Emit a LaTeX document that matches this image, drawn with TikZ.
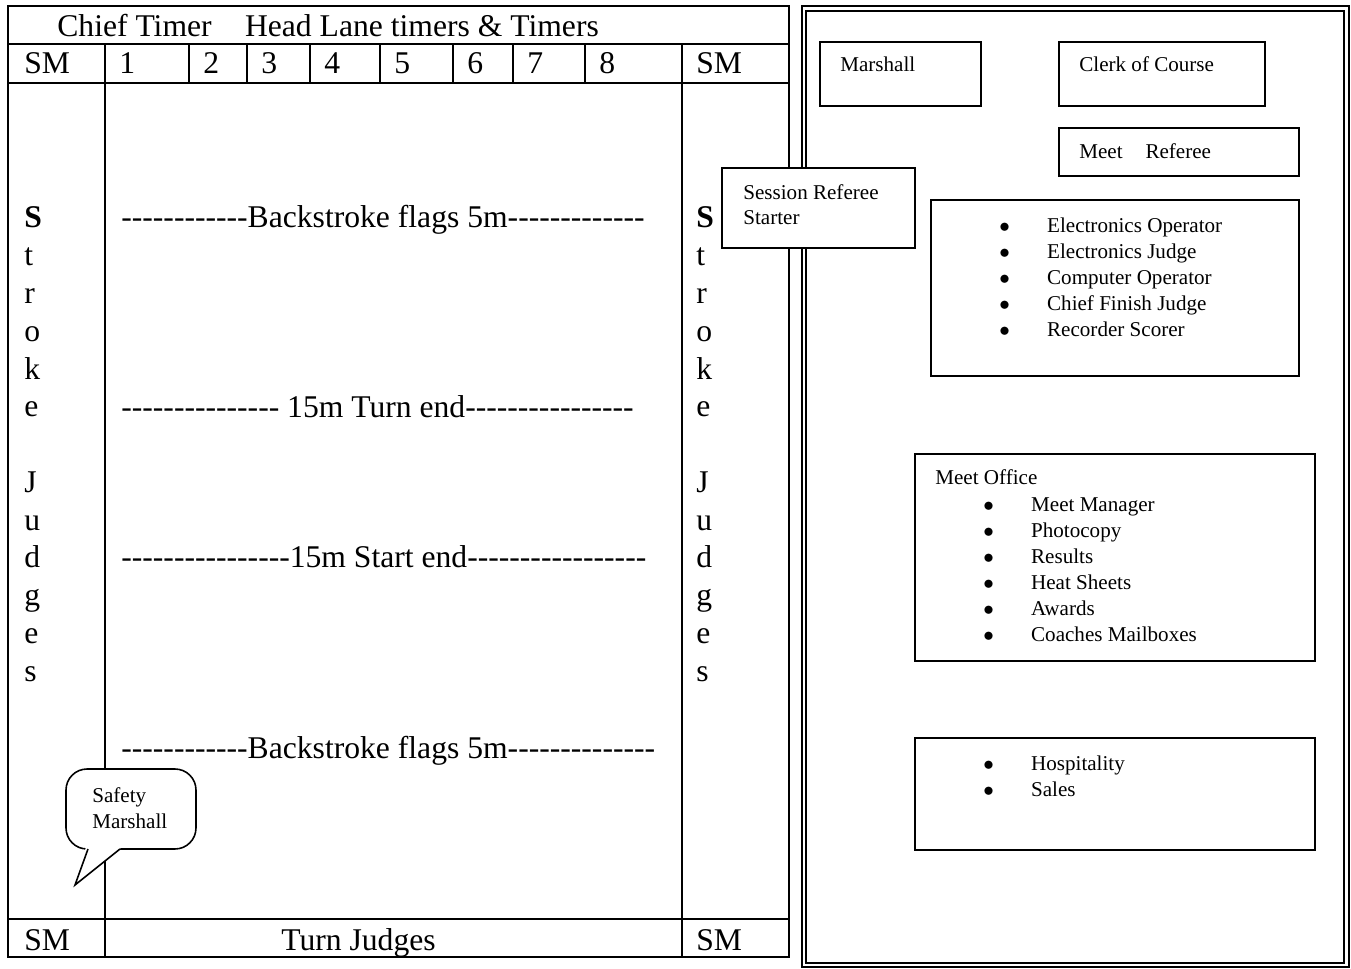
\documentclass[tikz,border=0pt]{standalone}
\usepackage{fontspec}
\setmainfont{Liberation Serif}[Ligatures=TeXOff]
\newcommand{\bigfont}{\fontsize{18}{21.6}\selectfont}
\newcommand{\smallfont}{\fontsize{12}{14.4}\selectfont}
\newcommand{\bul}{\makebox[27.2pt][l]{$\bullet$}}
\newcount\hycount
\newcommand{\hy}[1]{\hycount=0\relax\loop\ifnum\hycount<#1\relax-\advance\hycount by 1\relax\repeat}

\begin{document}
\begin{tikzpicture}[
  x=0.02cm, y=-0.02cm,
  rule/.style={line width=0.9pt},
  box/.style={draw, line width=0.9pt, fill=white},
  lbl/.style={font=\bigfont, inner sep=0pt, anchor=base west},
  note/.style={font=\smallfont, inner sep=0pt, anchor=base west}
]
\useasboundingbox (0,0) rectangle (1351,969);

% pool
\draw[rule] (8,6) rectangle (789,957);
\draw[rule] (8,44) -- (789,44);
\draw[rule] (8,83) -- (789,83);
\draw[rule] (8,919) -- (789,919);
\draw[rule] (105,44) -- (105,957);
\draw[rule] (682,44) -- (682,957);
\foreach \xx in {189,247,310,380,453,513,585}
  \draw[rule] (\xx,44) -- (\xx,83);

\node[lbl] (header) at (57,37) {Chief Timer\hspace{19pt}Head Lane timers \& Timers};
\node[lbl] (smtl) at (24,74) {SM};
\node[lbl] (smtr) at (696,74) {SM};
\foreach \n/\xx in {1/105,2/189,3/247,4/310,5/380,6/453,7/513,8/585}
  \node[lbl] (lane\n) at (\xx+14,74) {\n};
\node[lbl] (smbl) at (24,950) {SM};
\node[lbl] (smbr) at (696,950) {SM};
\node[lbl] (turn) at (281,950) {Turn Judges};

\foreach \ch [count=\k from 0] in {\textbf{S},t,r,o,k,e,{},J,u,d,g,e,s} {
  \node[lbl] (sjl\k) at (24,{228+37.75*\k}) {\ch};
  \node[lbl] (sjr\k) at (696,{228+37.75*\k}) {\ch};
}

\node[lbl] (flagsa) at (121,228) {\hy{12}Backstroke flags 5m\hy{13}};
\node[lbl] (turnend) at (121,417) {\hy{15} 15m Turn end\hy{16}};
\node[lbl] (startend) at (121,567) {\hy{16}15m Start end\hy{17}};
\node[lbl] (flagsb) at (121,758) {\hy{12}Backstroke flags 5m\hy{14}};

% safety marshall call-out
\draw[box, rounded corners=12] (66,769) rectangle (196,849);
\fill[white] (86,847) -- (75,885) -- (122,847) -- cycle;
\draw[rule] (88,849) -- (75,885) -- (120,849);
\node[note, anchor=north west, align=left] (safety) at (92,787.5) {Safety\\Marshall};

% officials area
\draw[line width=1.2pt] (802,6) rectangle (1349,967);
\draw[line width=0.9pt] (806,11) rectangle (1344,963);

\draw[box] (820,42) rectangle (981,106);
\node[note] (marshall) at (840,72) {Marshall};
\draw[box] (1059,42) rectangle (1265,106);
\node[note] (clerk) at (1079,72) {Clerk of Course};
\draw[box] (1059,128) rectangle (1299,176);
\node[note] (referee) at (1079,159) {Meet\hspace{13pt}Referee};

\draw[box] (931,200) rectangle (1299,376);
\foreach \job [count=\k from 0] in {Electronics Operator,Electronics Judge,Computer Operator,Chief Finish Judge,Recorder Scorer}
  \node[note] (elec\k) at (999,{232.5+26*\k}) {\bul\job};

\draw[box] (915,454) rectangle (1315,661);
\node[note] (office) at (935,484) {Meet Office};
\foreach \job [count=\k from 0] in {Meet Manager,Photocopy,Results,Heat Sheets,Awards,Coaches Mailboxes}
  \node[note] (off\k) at (983,{511+26*\k}) {\bul\job};

\draw[box] (915,738) rectangle (1315,850);
\foreach \job [count=\k from 0] in {Hospitality,Sales}
  \node[note] (hosp\k) at (983,{770+26*\k}) {\bul\job};

\draw[box] (722,168) rectangle (915,248);
\node[note, anchor=north west, align=left] (session) at (743,184.5) {Session Referee\\Starter};
\end{tikzpicture}
\end{document}
